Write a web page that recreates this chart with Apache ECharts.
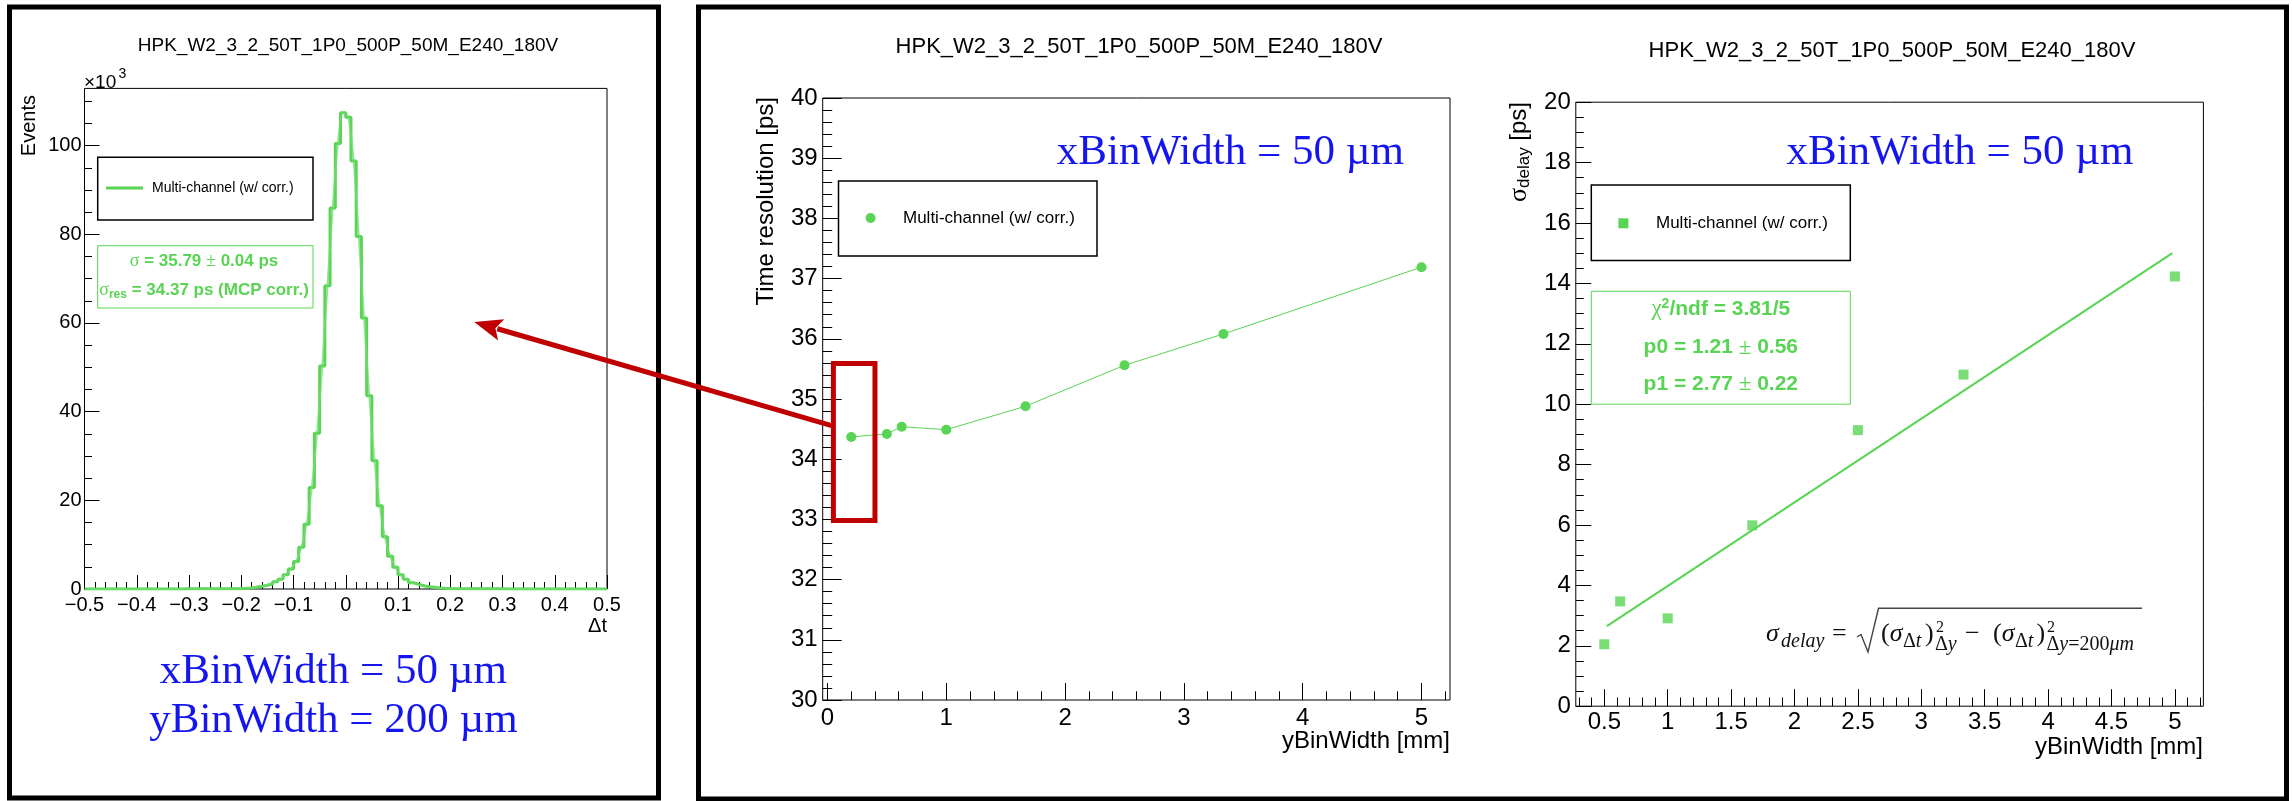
<!DOCTYPE html>
<html><head><meta charset="utf-8">
<script src="https://cdn.jsdelivr.net/npm/echarts@6/dist/echarts.min.js"></script>
<style>html,body{margin:0;padding:0;background:#fff}#c{width:2292px;height:801px}</style>
</head><body><div id="c"></div>
<script>
// ================= DATA =================
// Left: Delta t histogram (x10^3 events), 100 bins of 0.01 from -0.5 to 0.5
const histLowEdge = -0.5;
const histBinWidth = 0.01;
const histCountsK = [
  0.01,0.01,0.01,0.01,0.01,0.01,0.01,0.01,0.01,0.01,
  0.01,0.01,0.01,0.02,0.02,0.02,0.02,0.02,0.02,0.03,
  0.03,0.03,0.04,0.04,0.05,0.05,0.06,0.07,0.08,0.10,
  0.15,0.25,0.40,0.60,0.83,1.13,1.65,2.20,3.20,4.50,
  6.20,9.40,14.6,22.9,35.1,50.3,68.4,85.9,100.5,107.4,
  106.4,96.5,79.5,61.1,43.6,28.9,18.8,11.8,7.4,4.9,
  3.2,2.2,1.43,1.05,0.75,0.52,0.37,0.22,0.15,0.10,
  0.08,0.07,0.06,0.05,0.05,0.04,0.04,0.03,0.03,0.03,
  0.02,0.02,0.02,0.02,0.02,0.02,0.01,0.01,0.01,0.01,
  0.01,0.01,0.01,0.01,0.01,0.01,0.01,0.01,0.01,0.01
];
const histXTicks = [-0.5,-0.4,-0.3,-0.2,-0.1,0,0.1,0.2,0.3,0.4,0.5];
const histYTicks = [0,20,40,60,80,100];

// Middle: time resolution vs yBinWidth
const resYBinWidth = [0.2, 0.5, 0.625, 1.0, 1.667, 2.5, 3.333, 5.0];
const resTime      = [34.37, 34.42, 34.54, 34.49, 34.88, 35.56, 36.08, 37.19];
const resXTicks = [0,1,2,3,4,5];
const resYTicks = [30,31,32,33,34,35,36,37,38,39,40];

// Right: sigma_delay vs yBinWidth, with linear fit
const delayYBinWidth = [0.5, 0.625, 1.0, 1.667, 2.5, 3.333, 5.0];
const delaySigma     = [2.05, 3.47, 2.91, 5.99, 9.14, 10.98, 14.23];
const fitP0 = 1.21, fitP1 = 2.77;
const fitRange = [0.52, 4.98];
const delayXTicks = [0.5,1,1.5,2,2.5,3,3.5,4,4.5,5];
const delayYTicks = [0,2,4,6,8,10,12,14,16,18,20];

// Annotation (red box in middle panel, arrow to left panel)
const zoomBoxX = [0.05, 0.40];
const zoomBoxY = [32.98, 35.59];
const arrowFromMid = [0.05, 34.55];
const arrowToLeft = [0.246, 60.2];

// ================= STYLE =================
const FONT = '"Liberation Sans", Arial, Helvetica, sans-serif';
const SERIF = '"Liberation Serif", "Times New Roman", serif';
const GREEN = '#59d454';
const BLUE = '#1515f0';
const RED = '#c00000';

function ticksFrom(a, b, step) {
  const out = [];
  for (let v = a; v <= b + 1e-9; v += step) out.push(+v.toFixed(4));
  return out;
}
const fmtPlain = v => String(+(+v).toFixed(3));
const fmtHist = v => Math.abs(v) < 1e-9 ? '0' : (v < 0 ? '\u2212' : '') + Math.abs(v).toFixed(1);

function axes(dim, grid, min, max, major, minor, majLen, minLen, fontSize, margin, fmt) {
  const pos = dim === 'x' ? 'bottom' : 'left';
  const common = {
    type: 'value', gridIndex: grid, min: min, max: max, position: pos,
    axisLine: { show: false, onZero: false }, splitLine: { show: false }, minorTick: { show: false }
  };
  const main = Object.assign({}, common, {
    axisTick: { show: true, inside: true, length: majLen, customValues: major, lineStyle: { color: '#000', width: 1 } },
    axisLabel: { show: true, customValues: major, formatter: fmt, fontSize: fontSize, fontFamily: FONT, color: '#000', margin: margin }
  });
  const mnr = Object.assign({}, common, {
    axisTick: { show: true, inside: true, length: minLen, customValues: minor, lineStyle: { color: '#000', width: 1 } },
    axisLabel: { show: false }
  });
  return [main, mnr];
}

const grids = [
  { left: 84.5, top: 88.4, width: 522.5, height: 500.6 },
  { left: 822.7, top: 98, width: 627.3, height: 602 },
  { left: 1575.8, top: 102.2, width: 627.6, height: 604 }
].map(g => Object.assign(g, { show: true, borderColor: '#000', borderWidth: 1, backgroundColor: 'transparent', outerBoundsMode: 'none', containLabel: false }));

const xAxes = [].concat(
  axes('x', 0, -0.5, 0.5, histXTicks, ticksFrom(-0.5, 0.5, 0.02), 14, 7, 20, 6, fmtHist),
  axes('x', 1, -0.04, 5.24, resXTicks, ticksFrom(0, 5.2, 0.2), 17, 8.7, 24, 6, fmtPlain),
  axes('x', 2, 0.275, 5.225, delayXTicks, ticksFrom(0.3, 5.2, 0.1), 17, 8.7, 24, 4, fmtPlain)
);
const yAxes = [].concat(
  axes('y', 0, 0, 112.9, histYTicks, ticksFrom(0, 110, 5), 15, 7.5, 20, 3, fmtPlain),
  axes('y', 1, 30, 40, resYTicks, ticksFrom(30, 40, 0.2), 19, 9.5, 24, 5, fmtPlain),
  axes('y', 2, 0, 20, delayYTicks, ticksFrom(0, 20, 0.5), 15.5, 8, 24, 5, fmtPlain)
);

// histogram series data
const histStep = histCountsK.map((v, i) => [+(histLowEdge + i * histBinWidth).toFixed(3), v]);
histStep.push([+(histLowEdge + histCountsK.length * histBinWidth).toFixed(3), histCountsK[histCountsK.length - 1]]);
const histCenters = histCountsK.map((v, i) => [+(histLowEdge + (i + 0.5) * histBinWidth).toFixed(4), v]);
const fitLine = fitRange.map(x => [x, fitP0 + fitP1 * x]);

const option = {
  animation: false,
  backgroundColor: '#fff',
  textStyle: { fontFamily: FONT },
  grid: grids,
  xAxis: xAxes,
  yAxis: yAxes,
  series: [
    { type: 'line', xAxisIndex: 0, yAxisIndex: 0, data: histStep, step: 'end', symbol: 'none',
      lineStyle: { color: GREEN, width: 3 }, z: 3 },
    { type: 'line', xAxisIndex: 0, yAxisIndex: 0, data: histCenters, smooth: 0.3, symbol: 'none',
      lineStyle: { color: 'rgba(110,220,110,0.75)', width: 2 }, z: 4 },
    { type: 'line', xAxisIndex: 2, yAxisIndex: 2, data: resYBinWidth.map((x, i) => [x, resTime[i]]),
      symbol: 'circle', symbolSize: 10, itemStyle: { color: GREEN }, lineStyle: { color: GREEN, width: 1 }, z: 3 },
    { type: 'line', xAxisIndex: 4, yAxisIndex: 4, data: fitLine, symbol: 'none',
      lineStyle: { color: GREEN, width: 2 }, z: 3 },
    { type: 'scatter', xAxisIndex: 4, yAxisIndex: 4, data: delayYBinWidth.map((x, i) => [x, delaySigma[i]]),
      symbol: 'rect', symbolSize: 10, itemStyle: { color: GREEN }, z: 4 }
  ]
};

const chart = echarts.init(document.getElementById('c'), null, { renderer: 'canvas' });
chart.setOption(option);

// ================= ANNOTATIONS / TEXT =================
function T(x, y, text, font, extra) {
  return { type: 'text', x: x, y: y, silent: true, z: 100,
    style: Object.assign({ text: text, font: font, fill: '#000', align: 'left', verticalAlign: 'middle', legacy: false }, extra || {}) };
}
function R(x, y, w, h, stroke, lw, fill) {
  return { type: 'rect', silent: true, z: 90, shape: { x: x, y: y, width: w, height: h },
    style: { fill: fill || 'none', stroke: stroke, lineWidth: lw } };
}
const f = (size, fam, w, st) => (st || '') + ' ' + (w || 'normal') + ' ' + size + 'px ' + fam;

const G = [];
// outer frames
G.push(R(9.5, 7, 649, 791, '#000', 5));
G.push(R(698.5, 7, 1588, 792, '#000', 5));

// titles
const TITLE = 'HPK_W2_3_2_50T_1P0_500P_50M_E240_180V';
G.push(T(348, 46, TITLE, f(19, FONT), { align: 'center' }));
G.push(T(1139, 47, TITLE, f(22, FONT), { align: 'center' }));
G.push(T(1892, 51, TITLE, f(22, FONT), { align: 'center' }));

// ---- left panel ----
G.push(T(84, 82.5, '\u00d710', f(19, FONT)));
G.push(T(118.5, 74, '3', f(14, FONT)));
G.push(Object.assign(T(29, 95, 'Events', f(20, FONT), { align: 'right' }), { rotation: Math.PI / 2 }));
G.push(T(607, 626, '\u0394t', f(20, FONT), { align: 'right' }));
G.push(T(333.3, 672, 'xBinWidth = 50 \u00b5m', f(43, SERIF), { align: 'center', fill: BLUE }));
G.push(T(333.5, 720.5, 'yBinWidth = 200 \u00b5m', f(43, SERIF), { align: 'center', fill: BLUE }));
// legend
G.push(R(97.7, 157.3, 215.3, 62.7, '#000', 1.5, '#fff'));
G.push({ type: 'line', silent: true, z: 95, shape: { x1: 106, y1: 188, x2: 143, y2: 188 }, style: { stroke: GREEN, lineWidth: 3 } });
G.push(T(152, 188, 'Multi-channel (w/ corr.)', f(14, FONT)));
// stats box
G.push(R(97.7, 245.7, 215.3, 62.3, GREEN, 1, '#fff'));
G.push(T(204, 261, '{g|\u03c3}{b| = 35.79 }{g|\u00b1}{b| 0.04 ps}', f(17, FONT, 'bold'), {
  align: 'center', fill: GREEN,
  rich: { g: { fontSize: 18, fontFamily: SERIF, fontWeight: 'normal', fill: GREEN, lineHeight: 20 },
          b: { fontSize: 17, fontFamily: FONT, fontWeight: 'bold', fill: GREEN, lineHeight: 20 } } }));
G.push(T(204, 290.7, '{g|\u03c3}{s|res}{b| = 34.37 ps (MCP corr.)}', f(17, FONT, 'bold'), {
  align: 'center', fill: GREEN,
  rich: { g: { fontSize: 18, fontFamily: SERIF, fontWeight: 'normal', fill: GREEN, lineHeight: 20 },
          s: { fontSize: 12, fontFamily: FONT, fontWeight: 'bold', fill: GREEN, lineHeight: 10, verticalAlign: 'bottom' },
          b: { fontSize: 17, fontFamily: FONT, fontWeight: 'bold', fill: GREEN, lineHeight: 20 } } }));

// ---- middle panel ----
G.push(T(1230.4, 153, 'xBinWidth = 50 \u00b5m', f(43, SERIF), { align: 'center', fill: BLUE }));
G.push(R(838.5, 181, 258.5, 75, '#000', 1.5, '#fff'));
G.push({ type: 'circle', silent: true, z: 95, shape: { cx: 870.6, cy: 218, r: 5 }, style: { fill: GREEN } });
G.push(T(903, 218, 'Multi-channel (w/ corr.)', f(17, FONT)));
G.push(Object.assign(T(766.5, 97, 'Time resolution [ps]', f(24, FONT), { align: 'right' }), { rotation: Math.PI / 2 }));
G.push(T(1450, 741, 'yBinWidth [mm]', f(24, FONT), { align: 'right' }));

// ---- right panel ----
G.push(T(1960, 153, 'xBinWidth = 50 \u00b5m', f(43, SERIF), { align: 'center', fill: BLUE }));
G.push(R(1591.3, 185, 259, 75.6, '#000', 1.5, '#fff'));
G.push({ type: 'rect', silent: true, z: 95, shape: { x: 1618.4, y: 218.3, width: 10, height: 10 }, style: { fill: GREEN } });
G.push(T(1656, 223, 'Multi-channel (w/ corr.)', f(17, FONT)));
G.push(R(1591.3, 291.3, 259, 112.9, GREEN, 1, '#fff'));
const fitRich = {
  g: { fontSize: 23, fontFamily: SERIF, fontWeight: 'normal', fill: GREEN, lineHeight: 24 },
  p: { fontSize: 14, fontFamily: FONT, fontWeight: 'bold', fill: GREEN, lineHeight: 12, verticalAlign: 'top' },
  b: { fontSize: 21, fontFamily: FONT, fontWeight: 'bold', fill: GREEN, lineHeight: 24 }
};
G.push(T(1720.8, 309, '{g|\u03c7}{p|2}{b|/ndf = 3.81/5}', f(21, FONT, 'bold'), { align: 'center', fill: GREEN, rich: fitRich }));
G.push(T(1720.8, 347.5, '{b|p0 = 1.21 }{g|\u00b1}{b| 0.56}', f(21, FONT, 'bold'), { align: 'center', fill: GREEN, rich: fitRich }));
G.push(T(1720.8, 384, '{b|p1 = 2.77 }{g|\u00b1}{b| 0.22}', f(21, FONT, 'bold'), { align: 'center', fill: GREEN, rich: fitRich }));
G.push(Object.assign(T(1519, 102, '{g|\u03c3}{s|delay}{n| [ps]}', f(24, FONT), {
  align: 'right',
  rich: { g: { fontSize: 26, fontFamily: SERIF, fill: '#000', lineHeight: 28 },
          s: { fontSize: 17, fontFamily: FONT, fill: '#000', lineHeight: 16, verticalAlign: 'bottom' },
          n: { fontSize: 24, fontFamily: FONT, fill: '#000', lineHeight: 28 } } }), { rotation: Math.PI / 2 }));
G.push(T(2203, 747, 'yBinWidth [mm]', f(24, FONT), { align: 'right' }));

// formula
const fRich = {
  i: { fontFamily: SERIF, fontStyle: 'italic', fill: '#111' },
  u: { fontFamily: SERIF, fontStyle: 'normal', fill: '#111' }
};
function FP(x, y, size, text) {
  const rich = {
    i: Object.assign({}, fRich.i, { fontSize: size }),
    u: Object.assign({}, fRich.u, { fontSize: size })
  };
  return T(x, y, text, f(size, SERIF), { rich: rich, fill: '#111' });
}
G.push(FP(1766, 634, 26, '{i|\u03c3}'));
G.push(FP(1781, 641.3, 20, '{i|delay}'));
G.push(FP(1832, 634, 26, '{u|=}'));
G.push({ type: 'polyline', silent: true, z: 100, shape: { points: [[1857, 637], [1861, 634.5], [1868, 652], [1878.5, 608.3], [2142, 608.3]] },
  style: { stroke: '#444', lineWidth: 1.4, fill: 'none' } });
G.push(FP(1881, 634, 26, '{u|(}{i|\u03c3}'));
G.push(FP(1903, 641.3, 20, '{u|\u0394}{i|t}'));
G.push(FP(1925, 634, 26, '{u|)}'));
G.push(FP(1936, 627.6, 16, '{u|2}'));
G.push(FP(1935, 644.3, 20, '{u|\u0394}{i|y}'));
G.push(FP(1965, 634, 26, '{u|\u2212}'));
G.push(FP(1993, 634, 26, '{u|(}{i|\u03c3}'));
G.push(FP(2015, 641.3, 20, '{u|\u0394}{i|t}'));
G.push(FP(2036.5, 634, 26, '{u|)}'));
G.push(FP(2047, 627.6, 16, '{u|2}'));
G.push(FP(2046.5, 644.3, 20, '{u|\u0394}{i|y}{u|=200}{i|\u03bcm}'));

// red box & arrow (positions from data coords)
const b1 = chart.convertToPixel({ seriesIndex: 2 }, [zoomBoxX[0], zoomBoxY[1]]);
const b2 = chart.convertToPixel({ seriesIndex: 2 }, [zoomBoxX[1], zoomBoxY[0]]);
G.push({ type: 'rect', silent: true, z: 110, shape: { x: b1[0], y: b1[1], width: b2[0] - b1[0], height: b2[1] - b1[1] },
  style: { fill: 'none', stroke: RED, lineWidth: 5 } });
const pf = chart.convertToPixel({ seriesIndex: 2 }, arrowFromMid);
const pt = chart.convertToPixel({ seriesIndex: 0 }, arrowToLeft);
const dx = pt[0] - pf[0], dy = pt[1] - pf[1], L = Math.hypot(dx, dy);
const ux = dx / L, uy = dy / L, px = -uy, py = ux;
const headLen = 28, headHalf = 11;
const bx = pt[0] - ux * headLen, by = pt[1] - uy * headLen;
G.push({ type: 'line', silent: true, z: 110, shape: { x1: pf[0], y1: pf[1], x2: bx + ux * 4, y2: by + uy * 4 },
  style: { stroke: RED, lineWidth: 5 } });
G.push({ type: 'polygon', silent: true, z: 110,
  shape: { points: [[pt[0], pt[1]], [bx + px * headHalf, by + py * headHalf], [bx + ux * 6, by + uy * 6], [bx - px * headHalf, by - py * headHalf]] },
  style: { fill: RED } });

chart.setOption({ graphic: { elements: G } });
</script>
</body></html>
